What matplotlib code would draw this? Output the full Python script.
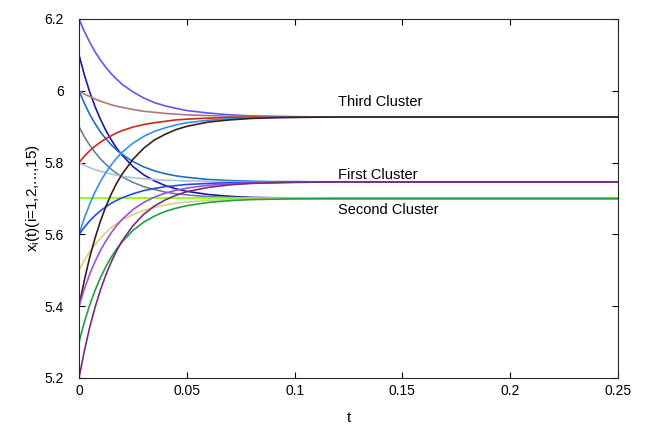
import matplotlib
matplotlib.use("Agg")
import matplotlib.pyplot as plt

plt.rcParams["font.family"] = ["Liberation Sans", "DejaVu Sans"]
plt.rcParams["mathtext.fontset"] = "custom"
plt.rcParams["mathtext.rm"] = "Liberation Sans"

# sample times
t = [0, 0.0025, 0.005, 0.0075, 0.01, 0.0125, 0.015, 0.0175, 0.02, 0.025, 0.03, 0.035,
     0.04, 0.045, 0.05, 0.06, 0.07, 0.08, 0.09, 0.1, 0.12, 0.15, 0.25]

# trajectories x_i(t), read at the times above
x1 = [6.2, 6.165, 6.135, 6.108, 6.085, 6.065, 6.047, 6.032, 6.018, 5.997, 5.980, 5.967,
      5.958, 5.951, 5.945, 5.938, 5.933, 5.930, 5.929, 5.928, 5.927, 5.927, 5.927]
x2 = [6.1, 6.044, 5.996, 5.955, 5.920, 5.889, 5.863, 5.840, 5.821, 5.789, 5.766, 5.749,
      5.736, 5.727, 5.720, 5.711, 5.706, 5.703, 5.702, 5.701, 5.700, 5.700, 5.700]
x3 = [6.0, 5.991, 5.984, 5.977, 5.971, 5.966, 5.961, 5.957, 5.954, 5.948, 5.943, 5.940,
      5.937, 5.935, 5.933, 5.931, 5.929, 5.928, 5.928, 5.927, 5.927, 5.927, 5.927]
x4 = [6.0, 5.965, 5.934, 5.908, 5.885, 5.866, 5.849, 5.835, 5.823, 5.803, 5.788, 5.777,
      5.769, 5.763, 5.759, 5.753, 5.750, 5.748, 5.747, 5.747, 5.746, 5.746, 5.746]
x5 = [5.9, 5.872, 5.848, 5.828, 5.810, 5.795, 5.781, 5.770, 5.760, 5.745, 5.733, 5.725,
      5.718, 5.713, 5.710, 5.705, 5.703, 5.702, 5.701, 5.700, 5.700, 5.700, 5.700]
x6 = [5.8, 5.818, 5.833, 5.846, 5.857, 5.867, 5.875, 5.883, 5.889, 5.899, 5.906, 5.911,
      5.915, 5.919, 5.921, 5.924, 5.925, 5.926, 5.926, 5.927, 5.927, 5.927, 5.927]
x7 = [5.8, 5.792, 5.786, 5.780, 5.776, 5.772, 5.768, 5.765, 5.762, 5.758, 5.755, 5.753,
      5.751, 5.750, 5.749, 5.748, 5.747, 5.746, 5.746, 5.746, 5.746, 5.746, 5.746]
x8 = [5.7, 5.7, 5.7, 5.7, 5.7, 5.7, 5.7, 5.7, 5.7, 5.7, 5.7, 5.7,
      5.7, 5.7, 5.7, 5.7, 5.7, 5.7, 5.7, 5.7, 5.7, 5.7, 5.7]
x9 = [5.6, 5.646, 5.685, 5.719, 5.748, 5.773, 5.794, 5.813, 5.829, 5.854, 5.873, 5.887,
      5.897, 5.905, 5.911, 5.918, 5.922, 5.924, 5.926, 5.926, 5.927, 5.927, 5.927]
x10 = [5.6, 5.620, 5.638, 5.653, 5.666, 5.677, 5.687, 5.695, 5.702, 5.713, 5.722, 5.728,
       5.733, 5.736, 5.739, 5.742, 5.744, 5.745, 5.745, 5.746, 5.746, 5.746, 5.746]
x11 = [5.5, 5.528, 5.552, 5.572, 5.590, 5.605, 5.619, 5.630, 5.640, 5.655, 5.667, 5.675,
       5.682, 5.687, 5.690, 5.695, 5.697, 5.698, 5.699, 5.700, 5.700, 5.700, 5.700]
x12 = [5.4, 5.473, 5.537, 5.591, 5.638, 5.678, 5.713, 5.743, 5.768, 5.809, 5.840, 5.863,
       5.879, 5.892, 5.901, 5.913, 5.919, 5.923, 5.925, 5.926, 5.927, 5.927, 5.927]
x13 = [5.4, 5.448, 5.490, 5.525, 5.556, 5.582, 5.605, 5.625, 5.642, 5.669, 5.689, 5.704,
       5.715, 5.723, 5.729, 5.737, 5.741, 5.743, 5.744, 5.745, 5.746, 5.746, 5.746]
x14 = [5.3, 5.356, 5.404, 5.445, 5.480, 5.511, 5.537, 5.560, 5.579, 5.611, 5.634, 5.651,
       5.664, 5.673, 5.680, 5.689, 5.694, 5.697, 5.698, 5.699, 5.700, 5.700, 5.700]
x15 = [5.2, 5.276, 5.342, 5.398, 5.446, 5.488, 5.524, 5.555, 5.582, 5.624, 5.656, 5.679,
       5.696, 5.709, 5.719, 5.731, 5.738, 5.742, 5.744, 5.745, 5.746, 5.746, 5.746]

series = [x1, x2, x3, x4, x5, x6, x7, x8, x9, x10, x11, x12, x13, x14, x15]
colors = ["#5a5af0", "#1a1aa0", "#b07878", "#1f6fc0", "#708090",
          "#c82a1e", "#a8c4d8", "#80ff00", "#3a8ee8", "#2a4ae8",
          "#d8d080", "#3a2018", "#9a50e0", "#20a040", "#7a2a7a"]

labels = ["Third Cluster", "First Cluster", "Second Cluster"]
label_y = [5.969, 5.765, 5.668]

fig = plt.figure(figsize=(6.46, 4.25), dpi=100)
ax = fig.add_axes([0.1223, 0.1106, 0.8344, 0.8447])

for xs, c in zip(series, colors):
    ax.plot(t, xs, color=c, lw=1.2)

for lab, yy in zip(labels, label_y):
    ax.text(0.12, yy, lab, fontsize=10.5, va="center", ha="left")

ax.set_xlim(0, 0.25)
ax.set_ylim(5.2, 6.2)
ax.set_xticks([0, 0.05, 0.1, 0.15, 0.2, 0.25])
ax.set_xticklabels(["0", "0.05", "0.1", "0.15", "0.2", "0.25"])
ax.set_yticks([5.2, 5.4, 5.6, 5.8, 6.0, 6.2])
ax.set_yticklabels(["5.2", "5.4", "5.6", "5.8", "6", "6.2"])
ax.tick_params(direction="in", top=True, right=True, labelsize=10, length=4)
ax.tick_params(axis="x", pad=4)
ax.tick_params(axis="y", pad=11)
for s in ax.spines.values():
    s.set_linewidth(0.8)
    s.set_color("#262626")

ax.set_xlabel("t", fontsize=11, labelpad=10)
ax.set_ylabel(r"x$_\mathregular{i}$(t)(i=1,2,...,15)", fontsize=11, labelpad=2)

fig.savefig("out.png", dpi=100)
